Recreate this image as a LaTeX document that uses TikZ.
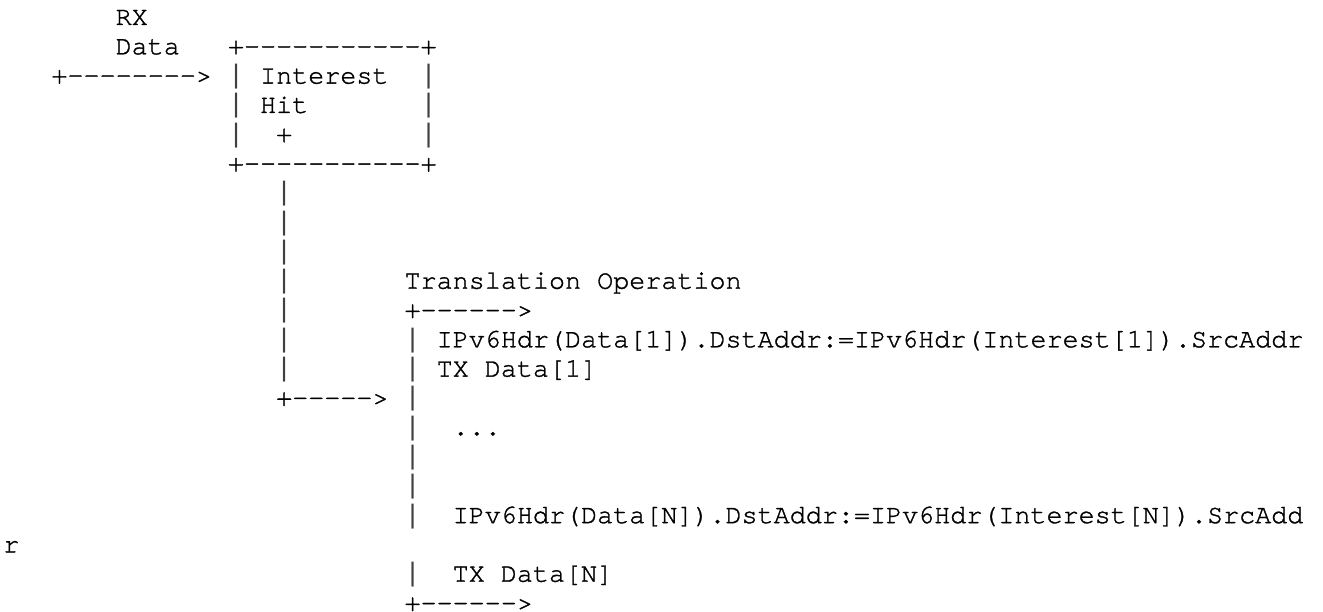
\documentclass[tikz,border=0pt]{standalone}
\usepackage{fontspec}
\setmonofont{texgyrecursor-regular.otf}[FakeBold=1.2]
\newfontfamily\barfont{Liberation Mono}
\tikzset{
  txt/.style={anchor=base west, inner sep=0pt, outer sep=0pt, text=black,
    font=\ttfamily\fontsize{26.75}{29.3}\selectfont},
  vbar/.style={txt, text=black!75, font=\barfont\fontsize{26.75}{29.3}\selectfont}
}
% name, column, row, text
\newcommand{\asciicell}[4]{\node[txt] (#1) at ({3.3+16.05*#2},{-25-29.3*(#3-1)}) {#4};}
\newcommand{\asciibar}[3]{\node[vbar] (#1) at ({3.3+16.05*#2},{-25-29.3*(#3-1)}) {|};}
\begin{document}
\begin{tikzpicture}[x=1pt,y=1pt]
\useasboundingbox (0,0) rectangle (1323,-612);
% row 1-2: input label
\asciicell{rx}{7}{1}{RX}
\asciicell{data}{7}{2}{Data}
\asciicell{boxtop}{14}{2}{+-----------+}
% row 3
\asciicell{inarrow}{3}{3}{+-------->}
\asciibar{boxl3}{14}{3}
\asciicell{interest}{16}{3}{Interest}
\asciibar{boxr3}{26}{3}
% row 4
\asciibar{boxl4}{14}{4}
\asciicell{hit}{16}{4}{Hit}
\asciibar{boxr4}{26}{4}
% row 5
\asciibar{boxl5}{14}{5}
\asciicell{plus}{17}{5}{+}
\asciibar{boxr5}{26}{5}
% row 6
\asciicell{boxbot}{14}{6}{+-----------+}
% vertical line from box
\asciibar{v7}{17}{7}
\asciibar{v8}{17}{8}
\asciibar{v9}{17}{9}
\asciibar{v10}{17}{10}
\asciibar{v11}{17}{11}
\asciibar{v12}{17}{12}
\asciibar{v13}{17}{13}
\asciicell{toarrow}{17}{14}{+----->}
% translation operation
\asciicell{trans}{25}{10}{Translation Operation}
\asciicell{tarrow}{25}{11}{+------>}
\asciibar{w12}{25}{12}
\asciicell{op1}{27}{12}{IPv6Hdr(Data[1]).DstAddr:=IPv6Hdr(Interest[1]).SrcAddr}
\asciibar{w13}{25}{13}
\asciicell{tx1}{27}{13}{TX Data[1]}
\asciibar{w14}{25}{14}
\asciibar{w15}{25}{15}
\asciicell{dots}{28}{15}{...}
\asciibar{w16}{25}{16}
\asciibar{w17}{25}{17}
\asciibar{w18}{25}{18}
\asciicell{opn}{28}{18}{IPv6Hdr(Data[N]).DstAddr:=IPv6Hdr(Interest[N]).SrcAdd}
\asciicell{wrapr}{0}{19}{r}
\asciibar{w20}{25}{20}
\asciicell{txn}{28}{20}{TX Data[N]}
\asciicell{barrow}{25}{21}{+------>}
\end{tikzpicture}
\end{document}
